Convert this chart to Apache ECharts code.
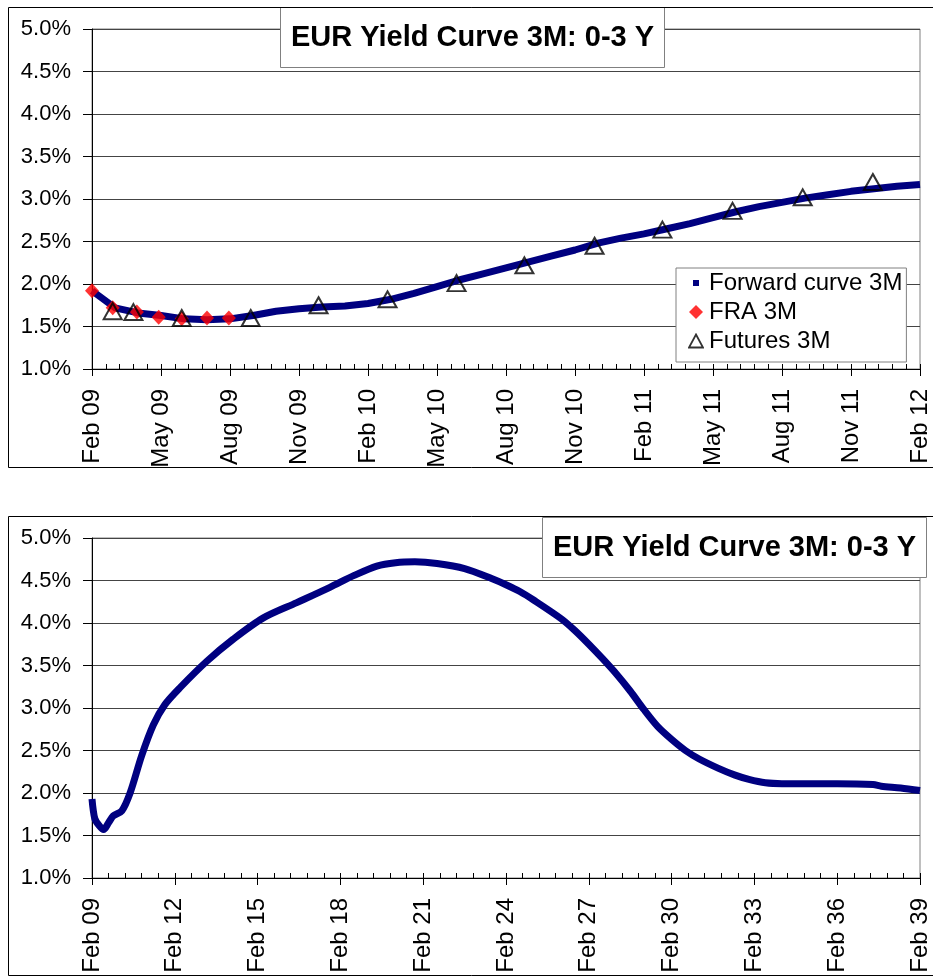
<!DOCTYPE html>
<html>
<head>
<meta charset="utf-8">
<script src="https://cdn.jsdelivr.net/npm/echarts@6/dist/echarts.min.js"></script>
<style>
html, body { margin: 0; padding: 0; background: #fff; }
#chart { width: 933px; height: 980px; }
</style>
</head>
<body>
<div id="chart"></div>
<script>
// tick labels
var topTickLabels = ['Feb 09','May 09','Aug 09','Nov 09','Feb 10','May 10','Aug 10','Nov 10','Feb 11','May 11','Aug 11','Nov 11','Feb 12'];
var bottomTickLabels = ['Feb 09','Feb 12','Feb 15','Feb 18','Feb 21','Feb 24','Feb 27','Feb 30','Feb 33','Feb 36','Feb 39'];

// top chart: months from Feb 09, rates in %
var fwdMonths = [0,1,2,3,4,5,6,7,8,9,10,11,12,13,14,15,16,17,18,19,20,21,22,23,24,25,26,27,28,29,30,31,32,33,34,35,36];
var fwdRates  = [1.92,1.72,1.66,1.63,1.59,1.58,1.59,1.63,1.68,1.71,1.73,1.74,1.77,1.82,1.89,1.97,2.05,2.12,2.19,2.26,2.33,2.40,2.48,2.54,2.59,2.65,2.71,2.78,2.85,2.91,2.96,3.01,3.05,3.09,3.12,3.15,3.17];

var fraMonths = [0, 0.9, 1.95, 2.9, 3.9, 5.0, 5.95];
var fraRates  = [1.92, 1.72, 1.67, 1.61, 1.59, 1.60, 1.60];

var futMonths = [0.9, 1.8, 3.9, 6.9, 9.85, 12.85, 15.85, 18.8, 21.85, 24.8, 27.85, 30.9, 33.95];
var futRates  = [1.68, 1.67, 1.60, 1.60, 1.75, 1.82, 2.01, 2.22, 2.45, 2.64, 2.86, 3.02, 3.20];

// bottom chart: years from Feb 09, rates in %
var longYears = [0, 0.1, 0.25, 0.42, 0.6, 0.77, 1.08, 1.38, 1.8, 2.22, 2.64, 3.19, 4.16, 5.12, 6.21, 7.42, 8.62, 9.5, 10.32, 11.0, 11.7, 12.5, 13.5, 14.5, 15.0, 15.5, 16.0, 17.0, 17.5, 18.0, 18.5, 19.0, 19.5, 20.0, 20.5, 21.0, 21.5, 22.0, 22.7, 23.3, 23.8, 24.4, 25.0, 27.0, 28.3, 28.6, 29.3, 30];
var longRates = [1.93, 1.70, 1.62, 1.57, 1.65, 1.73, 1.79, 2.00, 2.44, 2.80, 3.04, 3.24, 3.55, 3.81, 4.06, 4.24, 4.42, 4.56, 4.67, 4.71, 4.72, 4.70, 4.64, 4.52, 4.45, 4.37, 4.27, 4.05, 3.91, 3.75, 3.58, 3.40, 3.20, 2.98, 2.78, 2.63, 2.50, 2.40, 2.29, 2.21, 2.16, 2.12, 2.11, 2.11, 2.10, 2.08, 2.06, 2.03];

var font = 'Arial, "Liberation Sans", sans-serif';

function pairs(xs, ys) {
    var out = [];
    for (var i = 0; i < xs.length; i++) out.push([xs[i], ys[i]]);
    return out;
}

function svgIcon(body) {
    return 'image://data:image/svg+xml;charset=utf-8,' + encodeURIComponent(
        '<svg xmlns="http://www.w3.org/2000/svg" width="16" height="16" viewBox="0 0 16 16">' + body + '</svg>');
}

function yAxisFor(g) {
    return {
        type: 'value', gridIndex: g, min: 1, max: 5, interval: 0.5,
        axisLine: { show: true, lineStyle: { color: '#000', width: 1 } },
        axisTick: { show: true, length: 9, lineStyle: { color: '#000' } },
        axisLabel: { margin: 21, fontSize: 22, color: '#000', fontFamily: font,
            formatter: function (v) { return v.toFixed(1) + '%'; } },
        splitLine: { show: true, lineStyle: { color: '#444', width: 1 } }
    };
}

function xAxisFor(g, max, labels) {
    return {
        type: 'value', gridIndex: g, min: 0, max: max, interval: 3, position: 'bottom',
        axisLine: { onZero: false, lineStyle: { color: '#000', width: 1 } },
        axisTick: { show: true, length: 7, lineStyle: { color: '#000' } },
        axisLabel: { rotate: 90, margin: 20, fontSize: 24, color: '#000', fontFamily: font,
            formatter: function (v) { return labels[Math.round(v / 3)]; } },
        splitLine: { show: false }
    };
}

// second axis on the same grid only for the small inner ticks
function minorAxisFor(g, max) {
    return {
        type: 'value', gridIndex: g, min: 0, max: max, interval: 3, position: 'bottom',
        axisLine: { show: false, onZero: false },
        axisTick: { show: true, inside: true, length: 5, lineStyle: { color: '#000' } },
        minorTick: { show: true, splitNumber: 5, length: 5, lineStyle: { color: '#000' } },
        axisLabel: { show: false },
        splitLine: { show: false }
    };
}

function titleAt(left, top) {
    return {
        text: 'EUR Yield Curve 3M: 0-3 Y', left: left, top: top,
        padding: [16, 11, 16, 11],
        borderColor: '#808080', borderWidth: 1, backgroundColor: '#fff',
        textStyle: { fontSize: 29, fontWeight: 'bold', fontFamily: font, color: '#000' }
    };
}

var chart = echarts.init(document.getElementById('chart'));
var option = {
    animation: false,
    backgroundColor: '#fff',
    title: [titleAt(280, 7), titleAt(542, 517)],
    legend: {
        orient: 'vertical', left: 676, top: 268,
        padding: [3, 4, 9, 12], itemGap: 5, itemWidth: 16, itemHeight: 16,
        backgroundColor: '#fff', borderColor: '#808080', borderWidth: 1,
        textStyle: { fontSize: 24, fontFamily: font, color: '#000' },
        data: [
            { name: 'Forward curve 3M', icon: svgIcon('<rect x="5" y="5" width="6" height="6" fill="#000080"/>') },
            { name: 'FRA 3M', icon: svgIcon('<polygon points="8,1 15,8 8,15 1,8" fill="#ff0000"/>') },
            { name: 'Futures 3M', icon: svgIcon('<polygon points="8,1.5 15,14.5 1,14.5" fill="none" stroke="#000" stroke-width="1.8"/>') }
        ]
    },
    grid: [
        { left: 92, top: 29, width: 828, height: 340, show: true, borderColor: '#808080', borderWidth: 1 },
        { left: 92, top: 538, width: 828, height: 340, show: true, borderColor: '#808080', borderWidth: 1 }
    ],
    xAxis: [
        xAxisFor(0, 36, topTickLabels),
        minorAxisFor(0, 36),
        xAxisFor(1, 30, bottomTickLabels),
        minorAxisFor(1, 30)
    ],
    yAxis: [yAxisFor(0), yAxisFor(1)],
    graphic: [
        { type: 'rect', silent: true, z: 100, shape: { x: 8.5, y: 7.5, width: 940, height: 460 },
          style: { fill: 'none', stroke: '#000', lineWidth: 1 } },
        { type: 'rect', silent: true, z: 100, shape: { x: 8.5, y: 516.5, width: 940, height: 459 },
          style: { fill: 'none', stroke: '#000', lineWidth: 1 } }
    ],
    series: [
        {
            name: 'Forward curve 3M', type: 'line', xAxisIndex: 0, yAxisIndex: 0,
            data: pairs(fwdMonths, fwdRates), symbol: 'none', z: 2,
            lineStyle: { color: '#000080', width: 7 }, itemStyle: { color: '#000080' }
        },
        {
            name: 'FRA 3M', type: 'scatter', xAxisIndex: 0, yAxisIndex: 0,
            data: pairs(fraMonths, fraRates), symbol: 'diamond', symbolSize: [14, 15], z: 3,
            itemStyle: { color: '#ff0000' }
        },
        {
            name: 'Futures 3M', type: 'scatter', xAxisIndex: 0, yAxisIndex: 0,
            data: pairs(futMonths, futRates), symbol: 'triangle', symbolSize: [18, 16], z: 4,
            itemStyle: { color: 'rgba(0,0,0,0)', borderColor: '#000', borderWidth: 2 }
        },
        {
            name: 'Forward curve 3M 0-30Y', type: 'line', xAxisIndex: 2, yAxisIndex: 1,
            data: pairs(longYears, longRates), symbol: 'none', smooth: 0.3, z: 2,
            lineStyle: { color: '#000080', width: 7 }, itemStyle: { color: '#000080' }
        }
    ]
};
chart.setOption(option);
</script>
</body>
</html>
